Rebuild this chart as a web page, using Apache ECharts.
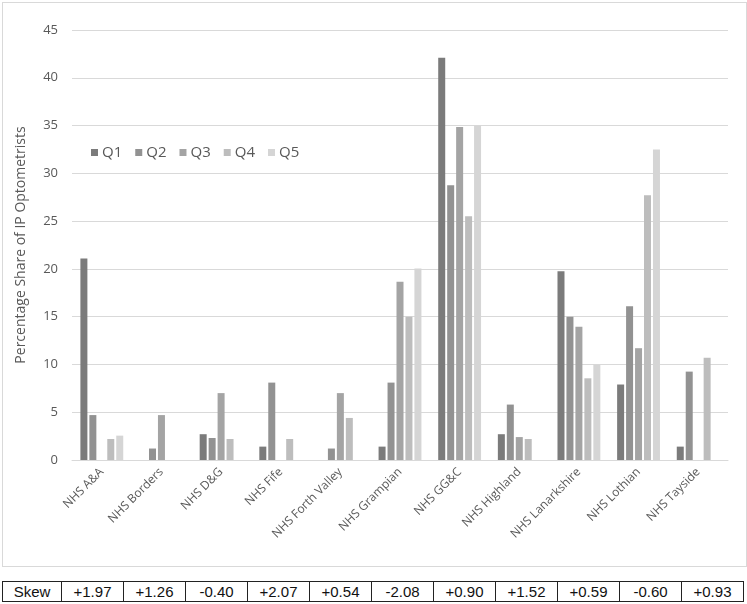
<!DOCTYPE html>
<html lang="en">
<head>
  <meta charset="utf-8">
  <style>
    body { margin: 0; background: #fff; width: 747px; height: 604px; position: relative; overflow: hidden; }
    #chart { position: absolute; left: 2px; top: 2px; width: 743px; height: 563px; border: 1px solid #d9d9d9; }
    #skew { position: absolute; left: 2px; top: 581px; border-collapse: collapse; font-family: "Liberation Sans", sans-serif; font-size: 15px; color: #111; }
    #skew td { border: 1px solid #222; height: 19px; padding: 0; text-align: center; width: 61px; }
    #skew td:first-child { width: 58px; }
  </style>
</head>
<body>
  <div id="chart"></div>
  <table id="skew"><tr id="skewRow"></tr></table>

  <script src="https://cdn.jsdelivr.net/npm/echarts@6/dist/echarts.min.js"></script>
  <script>
    var boards = ['NHS A&A', 'NHS Borders', 'NHS D&G', 'NHS Fife', 'NHS Forth Valley', 'NHS Grampian',
      'NHS GG&C', 'NHS Highland', 'NHS Lanarkshire', 'NHS Lothian', 'NHS Tayside']
    var q1 = [21.1, 0, 2.7, 1.4, 0, 1.4, 42.1, 2.7, 19.75, 7.9, 1.4]
    var q2 = [4.7, 1.2, 2.3, 8.1, 1.2, 8.1, 28.75, 5.8, 15.0, 16.1, 9.25]
    var q3 = [0, 4.7, 7.0, 0, 7.0, 18.65, 34.85, 2.4, 13.95, 11.7, 0]
    var q4 = [2.2, 0, 2.2, 2.2, 4.4, 15.0, 25.5, 2.2, 8.55, 27.7, 10.7]
    var q5 = [2.55, 0, 0, 0, 0, 20.05, 35.0, 0, 10.0, 32.5, 0]
    var skew = ['+1.97', '+1.26', '-0.40', '+2.07', '+0.54', '-2.08', '+0.90', '+1.52', '+0.59', '-0.60', '+0.93']

    var row = document.getElementById('skewRow')
    row.innerHTML = '<td>Skew</td>' + skew.map(function (s) { return '<td>' + s + '</td>' }).join('')

    var names = ['Q1', 'Q2', 'Q3', 'Q4', 'Q5']
    var colors = ['#7b7b7b', '#929292', '#a4a4a4', '#bdbdbd', '#d5d5d5']
    var values = [q1, q2, q3, q4, q5]

    var chart = echarts.init(document.getElementById('chart'), null, { renderer: 'canvas' })
    var txt = '#595959'
    var font = '"Open Sans", "Liberation Sans", sans-serif'

    var option = {
      animation: false,
      color: colors,
      textStyle: { fontFamily: font },
      legend: {
        left: 83, top: 137,
        itemWidth: 7, itemHeight: 7, itemGap: 13,
        icon: 'rect',
        textStyle: { color: txt, fontSize: 15, fontFamily: font, padding: [0, 0, 0, -1] },
        data: names
      },
      grid: { left: 69, right: 18, top: 27, bottom: 106 },
      xAxis: {
        type: 'category',
        data: boards,
        axisLine: { lineStyle: { color: '#d9d9d9' } },
        axisTick: { show: false },
        axisLabel: { rotate: 45, color: txt, fontSize: 12, fontFamily: font, margin: 10, interval: 0 }
      },
      yAxis: {
        type: 'value',
        min: 0, max: 45, interval: 5,
        name: 'Percentage Share of IP Optometrists',
        nameLocation: 'middle',
        nameGap: 44,
        nameTextStyle: { color: txt, fontSize: 14, fontFamily: font },
        axisLabel: { color: txt, fontSize: 13, fontFamily: font, margin: 14 },
        splitLine: { lineStyle: { color: '#d9d9d9' } }
      },
      series: names.map(function (n, i) {
        return {
          name: n,
          type: 'bar',
          data: values[i],
          barWidth: 7,
          barGap: '28%',
          itemStyle: { color: colors[i] }
        }
      })
    }
    chart.setOption(option)
  </script>
</body>
</html>
